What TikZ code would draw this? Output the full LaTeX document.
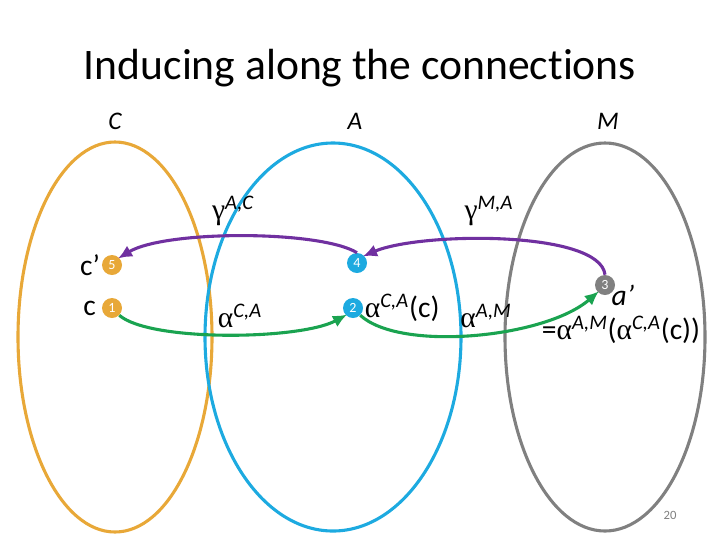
\documentclass[tikz,border=0pt]{standalone}
\usepackage{fontspec}
\setmainfont{Carlito}[Ligatures=NoCommon]
\newfontfamily\greekfont{Liberation Serif}
\usetikzlibrary{arrows.meta, positioning}

\definecolor{setorange}{RGB}{232,168,56}
\definecolor{setblue}{RGB}{29,170,224}
\definecolor{setgray}{RGB}{128,128,128}
\definecolor{mappurple}{RGB}{112,48,160}
\definecolor{mapgreen}{RGB}{26,163,80}

% map name with superscript, e.g. \mapsym{α}{C,A}
\newcommand{\mapsym}[2]{{\greekfont #1}\textsuperscript{\itshape #2}}

\tikzset{
    setline/.style={line width=2.2pt},
    numdot/.style={circle, fill=#1, text=white, inner sep=0pt,
        minimum size=0.5cm, font=\fontsize{10}{11}\selectfont},
    maparrow/.style={line width=2.2pt, draw=#1,
        -{Latex[length=10pt, width=9pt]}, shorten >=-1pt},
    setlabel/.style={font=\fontsize{18}{21}\selectfont\itshape},
    eltlabel/.style={font=\fontsize{21}{25}\selectfont, inner sep=1pt}
}

\begin{document}
\begin{tikzpicture}[x=0.025cm, y=-0.025cm]

\useasboundingbox (0,0) rectangle (720,540);

% Title
\node[font=\fontsize{31}{36}\selectfont] (title) at (360,68) {Inducing along the connections};

% Sets C, A, M
\draw[setline, setorange] (115,337) ellipse [x radius=97, y radius=195];
\draw[setline, setblue] (333,337) ellipse [x radius=128, y radius=194];
\draw[setline, setgray] (605,337) ellipse [x radius=100, y radius=194];

\node[setlabel] (labC) at (115,121) {C};
\node[setlabel] (labA) at (355,121) {A};
\node[setlabel] (labM) at (608,121) {M};

% Numbered elements
\node[numdot=setorange] (n5) at (112,265) {5};
\node[numdot=setorange] (n1) at (112,308) {1};
\node[numdot=setblue] (n4) at (357,263) {4};
\node[numdot=setblue] (n2) at (353,308) {2};
\node[numdot=setgray] (n3) at (605,285) {3};

\node[eltlabel, left=0pt of n5] (lab5) {c’};
\node[eltlabel, left=3pt of n1] (lab1) {c};
\node[eltlabel, right=0pt of n2] (lab2) {\mapsym{α}{C,A}(c)};
\node[eltlabel, anchor=north west] (lab3) at (610,283) {\textit{a’}};
\node[eltlabel] (lab3b) at (621,330) {=\mapsym{α}{A,M}(\mapsym{α}{C,A}(c))};

% Connections alpha (green)
\draw[maparrow=mapgreen] (n1.south east) .. controls (150,342) and (300,340) .. (n2.south west);
\draw[maparrow=mapgreen] (n2.south east) .. controls (400,352) and (545,338) .. (n3.south west);
\node[eltlabel] (a1) at (240,316) {\mapsym{α}{C,A}};
\node[eltlabel] (a2) at (486,316) {\mapsym{α}{A,M}};

% Connections gamma (purple)
\draw[maparrow=mappurple] (n3.north) .. controls (600,230) and (420,232) .. (n4.north east);
\draw[maparrow=mappurple] (n4.north) .. controls (320,230) and (165,230) .. (n5.north east);
\node[eltlabel] (g1) at (233,211) {\mapsym{γ}{A,C}};
\node[eltlabel] (g2) at (489,211) {\mapsym{γ}{M,A}};

% Page number
\node[font=\fontsize{9}{10}\selectfont, text=setgray] (page) at (670,515) {20};

\end{tikzpicture}
\end{document}
